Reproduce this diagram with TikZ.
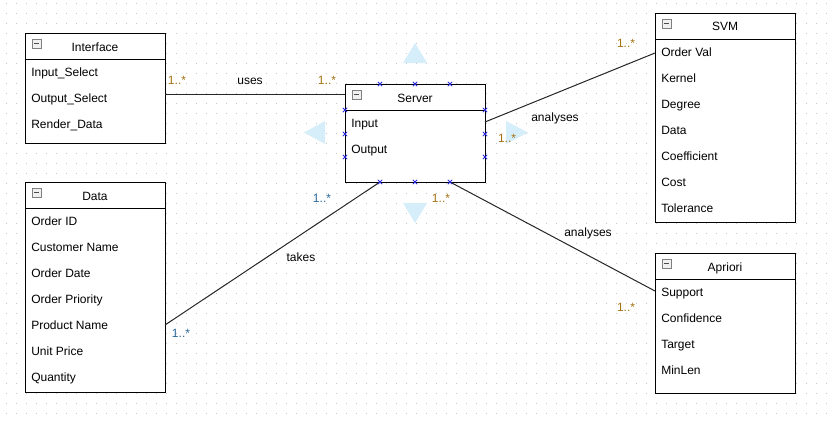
\documentclass[tikz,border=0pt]{standalone}
\usepackage{fontspec}
\setmainfont{Liberation Sans}
\usetikzlibrary{calc}
\definecolor{multc}{RGB}{165,115,20}
\definecolor{multb}{RGB}{40,105,155}
\definecolor{handlec}{RGB}{213,238,250}
\definecolor{gridc}{RGB}{200,200,200}
\definecolor{mkc}{RGB}{40,40,220}
\newcommand{\umlbox}[6]{% name, x, y, height(px), title, attributes
  \node[cls, minimum height=#4*0.75pt] (#1) at (#2,#3) {};
  \draw[line width=0.75pt] ($(#1.north west)+(0,26)$) -- ($(#1.north east)+(0,26)$);
  \node[ttl] (#1-t) at ($(#1.north)+(0,18)$) {#5};
  \draw[draw=gray, fill=gray!12, line width=0.5pt] ($(#1.north west)+(7,6)$) rectangle ++(9,9);
  \draw[draw=black!70, line width=0.9pt] ($(#1.north west)+(9,10.5)$) -- ++(5,0);
  \foreach \a [count=\i] in {#6} {
    \node[attr] (#1-a\i) at ($(#1.north west)+(6,17.5+26*\i)$) {\a};
  }
}
\begin{document}
\begin{tikzpicture}[x=0.75pt,y=-0.75pt, font=\fontsize{9}{11}\selectfont,
  cls/.style={draw=black, fill=white, line width=0.75pt, anchor=north west,
    minimum width=105pt, inner sep=0pt, outer sep=0pt},
  attr/.style={anchor=base west, inner sep=0pt},
  ttl/.style={anchor=base, inner sep=0pt},
  mult/.style={anchor=base, text=multc, inner sep=0pt},
  multblue/.style={anchor=base, text=multb, inner sep=0pt},
  lbl/.style={anchor=base, inner sep=0pt},
  conn/.style={draw=black!85, line width=0.75pt},
  handle/.style={fill=handlec, draw=none},
  mk/.style={draw=mkc, line width=0.55pt}]
% background and bounding box
\fill[white] (0,0) rectangle (828,421);
\useasboundingbox (0,0) rectangle (828,421);
% dot grid
\foreach \gx in {6,16,...,826} {
  \foreach \gy in {3,13,...,413} {
    \fill[gridc] (\gx-0.5,\gy-0.5) rectangle ++(1,1);
  }
}
% drag handles around Server
\fill[handle] (403,63) -- (427,63) -- (415,43) -- cycle;
\fill[handle] (403,203) -- (427,203) -- (415,223) -- cycle;
\fill[handle] (325,121) -- (325,144) -- (304,132.5) -- cycle;
\fill[handle] (506,121) -- (506,144) -- (528,132.5) -- cycle;
% classes
\umlbox{iface}{25}{33}{110}{Interface}{Input\_Select,Output\_Select,Render\_Data}
\umlbox{data}{25}{182}{210}{Data}{Order ID,Customer Name,Order Date,Order Priority,Product Name,Unit Price,Quantity}
\umlbox{srv}{345}{84}{98}{Server}{Input,Output}
\umlbox{svm}{655}{13}{209}{SVM}{Order Val,Kernel,Degree,Data,Coefficient,Cost,Tolerance}
\umlbox{apr}{655}{253}{140}{Apriori}{Support,Confidence,Target,MinLen}
% connectors
\draw[conn] ($(iface.east)+(0,6)$) -- ($(srv.north west)+(0,10)$);
\draw[conn] ($(srv.north east)+(0,38)$) -- ($(svm.north west)+(0,40)$);
\draw[conn] ($(srv.south west)+(35,0)$) -- ($(data.north east)+(0,143)$);
\draw[conn] ($(srv.south east)+(-35,0)$) -- ($(apr.north west)+(0,38)$);
% selection markers on Server
\foreach \mx/\my in {380/84,415/84,450/84,380/182,415/182,450/182,345/110,345/134,345/157,485/110,485/134,485/157} {
  \draw[mk] (\mx-2.2,\my-2.2) -- (\mx+2.2,\my+2.2) (\mx-2.2,\my+2.2) -- (\mx+2.2,\my-2.2);
}
% labels
\node[lbl] (l-uses) at (250,84.5) {uses};
\node[lbl] (l-an1) at (555,121.5) {analyses};
\node[lbl] (l-takes) at (301,261.5) {takes};
\node[lbl] (l-an2) at (588,236.5) {analyses};
% multiplicities
\node[mult] (m1) at (177,84) {1..*};
\node[mult] (m2) at (327,84) {1..*};
\node[mult] (m3) at (507,142) {1..*};
\node[mult] (m4) at (626,47) {1..*};
\node[multblue] (m5) at (322,202) {1..*};
\node[mult] (m6) at (441,202) {1..*};
\node[mult] (m7) at (626,311) {1..*};
\node[multblue] (m8) at (181,337) {1..*};
\end{tikzpicture}
\end{document}
